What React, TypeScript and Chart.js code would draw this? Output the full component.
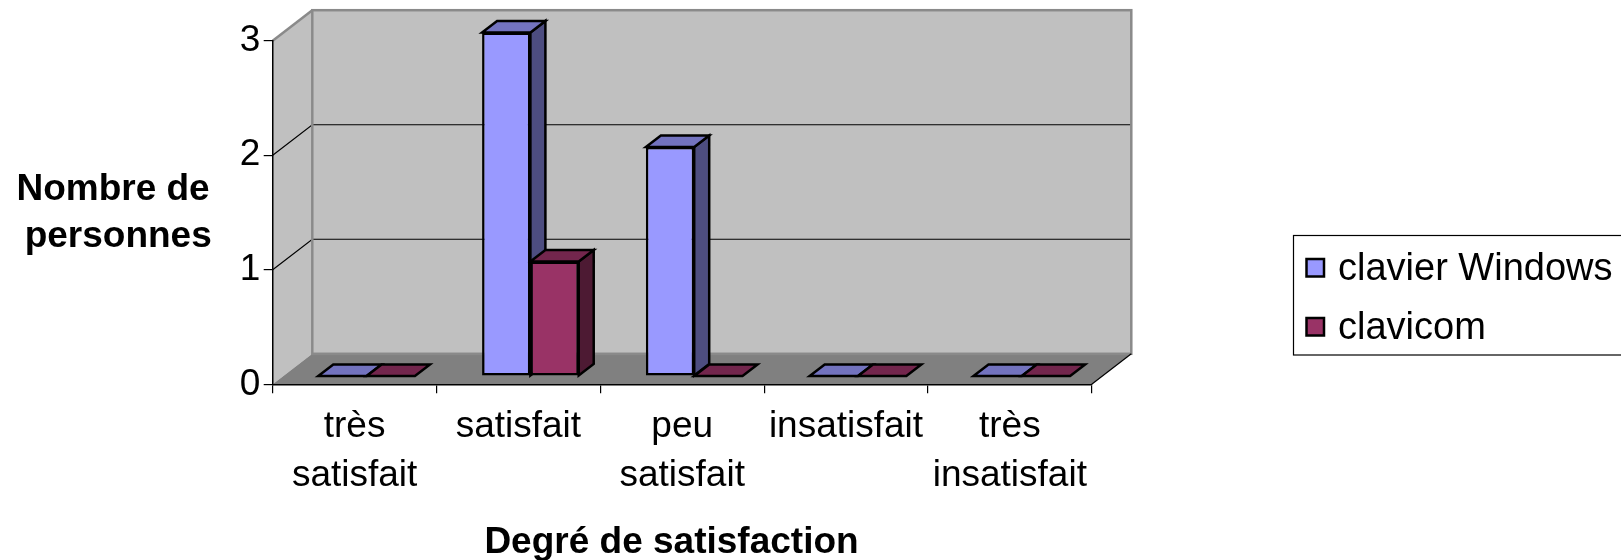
import React, { useEffect, useRef } from 'react';
import { Chart, registerables } from 'chart.js';

Chart.register(...registerables);

// ---- data ----
const categories: (string | string[])[] = [
  ['très', 'satisfait'],
  'satisfait',
  ['peu', 'satisfait'],
  'insatisfait',
  ['très', 'insatisfait'],
];
const clavierWindows = [0, 3, 2, 0, 0];
const clavicom = [0, 1, 0, 0, 0];
const seriesNames = ['clavier Windows', 'clavicom'];
const yTickValues = [0, 1, 2, 3];
const xTitle = 'Degré de satisfaction';
const yTitleLines = ['Nombre de ', 'personnes'];

// ---- styles ----
const FONT = '"Liberation Sans", Arial, Helvetica, sans-serif';
const FRONT = ['#9999FF', '#993366'];
const TOP = ['#7373BF', '#73264D'];
const SIDE = ['#4D4D80', '#4D1A33'];
const WALL_DEPTH = { dx: 39.6, dy: -30.5 };
const BAR_OFFSET = { dx: 12, dy: -8.3 };
const BAR_DEPTH = { dx: 15, dy: -11.5 };

function poly(ctx: CanvasRenderingContext2D, pts: number[][]) {
  ctx.beginPath();
  ctx.moveTo(pts[0][0], pts[0][1]);
  for (let i = 1; i < pts.length; i++) ctx.lineTo(pts[i][0], pts[i][1]);
  ctx.closePath();
}

const threeDPlugin = {
  id: 'threeD',
  beforeDraw(chart: any) {
    const { ctx } = chart;
    const x = chart.scales.x;
    const y = chart.scales.y;
    const L = x.left;
    const R = x.right;
    const y0 = y.getPixelForValue(0);
    const yT = y.getPixelForValue(y.max);
    const { dx, dy } = WALL_DEPTH;
    ctx.save();
    ctx.fillStyle = '#ffffff';
    ctx.fillRect(0, 0, chart.width, chart.height);
    // back wall
    ctx.fillStyle = '#C0C0C0';
    ctx.fillRect(L + dx, yT + dy, R - L, y0 - yT);
    // left wall
    poly(ctx, [[L, yT], [L + dx, yT + dy], [L + dx, y0 + dy], [L, y0]]);
    ctx.fill();
    // floor
    ctx.fillStyle = '#808080';
    poly(ctx, [[L, y0], [L + dx, y0 + dy], [R + dx, y0 + dy], [R, y0]]);
    ctx.fill();
    // gridlines
    ctx.strokeStyle = '#000';
    ctx.lineWidth = 1.2;
    for (const v of yTickValues) {
      if (v <= 0 || v >= y.max) continue;
      const py = y.getPixelForValue(v);
      ctx.beginPath();
      ctx.moveTo(L, py);
      ctx.lineTo(L + dx, py + dy);
      ctx.lineTo(R + dx, py + dy);
      ctx.stroke();
    }
    // wall outlines
    ctx.strokeStyle = '#8A8A8A';
    ctx.lineWidth = 2.5;
    ctx.strokeRect(L + dx, yT + dy, R - L, y0 - yT);
    ctx.beginPath();
    ctx.moveTo(L, yT);
    ctx.lineTo(L + dx, yT + dy);
    ctx.stroke();
    // floor right edge
    ctx.strokeStyle = '#000';
    ctx.lineWidth = 1.2;
    ctx.beginPath();
    ctx.moveTo(R, y0);
    ctx.lineTo(R + dx, y0 + dy);
    ctx.stroke();
    ctx.restore();
  },
  beforeDatasetsDraw(chart: any) {
    const { ctx } = chart;
    ctx.save();
    const n = chart.data.labels.length;
    const metas = chart.data.datasets.map((_: any, i: number) => chart.getDatasetMeta(i));
    const { dx, dy } = BAR_DEPTH;
    ctx.lineWidth = 2.5;
    ctx.lineJoin = 'miter';
    ctx.strokeStyle = '#000';
    for (let c = 0; c < n; c++) {
      for (let d = 0; d < metas.length; d++) {
        const el = metas[d].data[c];
        if (!el) continue;
        const l = el.x - el.width / 2 + BAR_OFFSET.dx;
        const r = el.x + el.width / 2 + BAR_OFFSET.dx;
        const t = el.y + BAR_OFFSET.dy;
        const b = el.base + BAR_OFFSET.dy;
        if (b - t > 0.5) {
          ctx.fillStyle = SIDE[d];
          poly(ctx, [[r, t], [r + dx, t + dy], [r + dx, b + dy], [r, b]]);
          ctx.fill();
          ctx.stroke();
        }
        ctx.fillStyle = TOP[d];
        poly(ctx, [[l, t], [r, t], [r + dx, t + dy], [l + dx, t + dy]]);
        ctx.fill();
        ctx.stroke();
      }
    }
    ctx.translate(BAR_OFFSET.dx, BAR_OFFSET.dy);
  },
  afterDatasetsDraw(chart: any) {
    chart.ctx.restore();
  },
  afterDraw(chart: any) {
    const { ctx } = chart;
    ctx.save();
    ctx.fillStyle = '#000';
    ctx.font = `bold 37px ${FONT}`;
    ctx.textAlign = 'center';
    ctx.textBaseline = 'alphabetic';
    ctx.fillText(xTitle, 671.5, 553);
    ctx.fillText(yTitleLines[0], 118.2, 200);
    ctx.fillText(yTitleLines[1], 118.2, 246.5);
    // legend
    ctx.fillStyle = '#fff';
    ctx.fillRect(1293.5, 235.5, 400, 119.5);
    ctx.strokeStyle = '#000';
    ctx.lineWidth = 1.2;
    ctx.strokeRect(1293.5, 235.5, 400, 119.5);
    ctx.font = `38px ${FONT}`;
    ctx.textAlign = 'left';
    chart.data.datasets.forEach((ds: any, i: number) => {
      const sy = 259 + i * 59;
      ctx.fillStyle = FRONT[i];
      ctx.fillRect(1306.5, sy, 17.5, 17.5);
      ctx.strokeStyle = '#000';
      ctx.lineWidth = 2.5;
      ctx.strokeRect(1306.5, sy, 17.5, 17.5);
      ctx.fillStyle = '#000';
      ctx.fillText(ds.label, 1338, sy + 21);
    });
    ctx.restore();
  },
};

export default function App() {
  const ref = useRef<HTMLCanvasElement | null>(null);
  useEffect(() => {
    document.body.style.margin = '0';
    const canvas = ref.current;
    if (!canvas) return;
    const chart = new Chart(canvas, {
      type: 'bar',
      data: {
        labels: categories as any,
        datasets: [
          {
            label: seriesNames[0],
            data: clavierWindows,
            backgroundColor: FRONT[0],
            borderColor: '#000',
            borderWidth: 2.5,
            borderSkipped: false,
            clip: false as any,
          },
          {
            label: seriesNames[1],
            data: clavicom,
            backgroundColor: FRONT[1],
            borderColor: '#000',
            borderWidth: 2.5,
            borderSkipped: false,
            clip: false as any,
          },
        ],
      },
      options: {
        responsive: false,
        animation: false,
        devicePixelRatio: 1,
        events: [],
        layout: { padding: { left: 0, top: 40.7, right: 529.3, bottom: 0 } },
        datasets: { bar: { categoryPercentage: 0.59, barPercentage: 1 } },
        plugins: { legend: { display: false }, tooltip: { enabled: false } },
        scales: {
          x: {
            offset: true,
            grid: { display: true, drawOnChartArea: false, drawTicks: true, tickLength: 9, offset: true, color: '#000', lineWidth: 1.2 },
            border: { display: true, color: '#000', width: 1.5 },
            ticks: {
              color: '#000',
              font: { family: FONT, size: 37, lineHeight: 49 / 37 },
              padding: 8.7,
              maxRotation: 0,
              minRotation: 0,
              autoSkip: false,
            },
            afterFit: (s: any) => { s.height = 560 - 384.3; },
          },
          y: {
            min: 0,
            max: 3,
            grid: { display: true, drawOnChartArea: false, drawTicks: true, tickLength: 9, color: '#000', lineWidth: 1.2 },
            border: { display: true, color: '#000', width: 1.5 },
            ticks: {
              stepSize: 1,
              color: '#000',
              font: { family: FONT, size: 37 },
              padding: 3.3,
            },
            afterFit: (s: any) => { s.width = 272.7; },
          },
        },
      },
      plugins: [threeDPlugin],
    });
    return () => chart.destroy();
  }, []);
  return <canvas ref={ref} width={1621} height={560} style={{ display: 'block' }} />;
}
